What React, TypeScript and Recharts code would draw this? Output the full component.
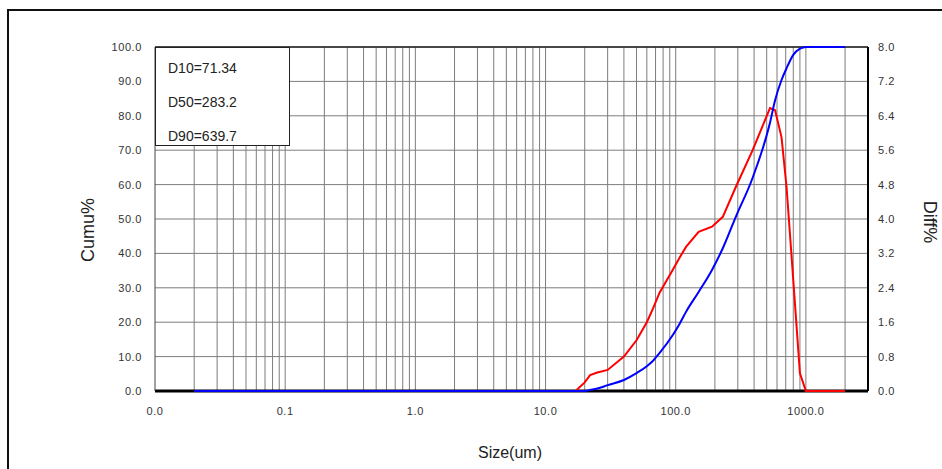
import { LineChart, Line, XAxis, YAxis, CartesianGrid, ReferenceLine } from "recharts";

const SIZES = [
  0.02, 17, 20, 22, 25, 30, 40, 50, 60, 67, 75, 95, 107, 120, 150, 190, 230,
  290, 390, 530, 580, 650, 710, 800, 900, 1000, 2000,
];
// cumulative %, left axis
const CUMU = [
  0, 0, 0, 0.3, 0.7, 1.7, 3.2, 5.2, 7.2, 8.8, 11, 16.3, 19.5, 23, 28.8, 35.2,
  41.5, 50.7, 62, 78, 84.5, 90.4, 93.8, 97.7, 99.5, 100, 100,
];
// differential %, right axis
const DIFF = [
  0, 0, 0.2, 0.37, 0.43, 0.49, 0.8, 1.18, 1.6, 1.92, 2.28, 2.82, 3.1, 3.35,
  3.7, 3.82, 4.05, 4.75, 5.6, 6.58, 6.53, 5.9, 4.75, 2.58, 0.41, 0, 0,
];

const X_TICKS = [0.01, 0.1, 1, 10, 100, 1000];
const CUMU_TICKS = [0, 10, 20, 30, 40, 50, 60, 70, 80, 90, 100];
const DIFF_TICKS = [0, 0.8, 1.6, 2.4, 3.2, 4.0, 4.8, 5.6, 6.4, 7.2, 8.0];
const MANTISSAS = [1, 2, 3, 4, 5, 6, 7, 8, 9];
const STATS = ["D10=71.34", "D50=283.2", "D90=639.7"];

const data = SIZES.map((size, i) => ({ size, cumu: CUMU[i], diff: DIFF[i] }));

// log grid: every 1..9 of each decade, up to 2000
const gridX = X_TICKS.flatMap((d) => MANTISSAS.map((m) => +(d * m).toPrecision(3))).filter(
  (v) => v > 0.01 && v <= 2000
);

const FONT = '"Liberation Sans", Arial, sans-serif';
const tick = { fill: "#333", fontSize: 11, fontFamily: FONT, letterSpacing: 0.6 };

export default function App() {
  return (
    <div
      style={{
        position: "absolute",
        left: 0,
        top: 0,
        width: 942,
        height: 469,
        background: "#fff",
        overflow: "hidden",
        fontFamily: FONT,
      }}
    >
      {/* outer frame */}
      <div
        style={{
          position: "absolute",
          left: 7,
          top: 9,
          width: 1000,
          height: 1000,
          borderTop: "2px solid #111",
          borderLeft: "2px solid #111",
        }}
      />
      <LineChart
        width={942}
        height={469}
        data={data}
        margin={{ top: 47, right: 34, bottom: 48, left: 95 }}
      >
        <CartesianGrid vertical={false} stroke="#7d7d7d" yAxisId="cumu" />
        <XAxis
          dataKey="size"
          type="number"
          scale="log"
          domain={[0.01, 3000]}
          ticks={X_TICKS}
          tickFormatter={(v: number) => v.toFixed(1)}
          allowDataOverflow
          axisLine={false}
          tickLine={false}
          tickSize={0}
          tickMargin={16}
          height={30}
          tick={tick}
        />
        <YAxis
          yAxisId="cumu"
          orientation="left"
          domain={[0, 100]}
          ticks={CUMU_TICKS}
          tickFormatter={(v: number) => v.toFixed(1)}
          width={60}
          axisLine={{ stroke: "#444" }}
          tickLine={false}
          tickSize={0}
          tickMargin={13}
          tick={tick}
        />
        <YAxis
          yAxisId="diff"
          orientation="right"
          domain={[0, 8]}
          ticks={DIFF_TICKS}
          tickFormatter={(v: number) => v.toFixed(1)}
          width={40}
          axisLine={{ stroke: "#000", strokeWidth: 2 }}
          tickLine={false}
          tickSize={0}
          tickMargin={10}
          tick={tick}
        />
        {gridX.map((v) => (
          <ReferenceLine key={v} x={v} yAxisId="cumu" stroke="#7d7d7d" strokeWidth={1} />
        ))}
        <ReferenceLine y={100} yAxisId="cumu" stroke="#222" strokeWidth={1.5} />
        <ReferenceLine y={0} yAxisId="cumu" stroke="#000" strokeWidth={3} />
        <Line
          yAxisId="diff"
          dataKey="diff"
          type="linear"
          stroke="#ff0000"
          strokeWidth={2}
          dot={false}
          isAnimationActive={false}
        />
        <Line
          yAxisId="cumu"
          dataKey="cumu"
          type="monotone"
          stroke="#0000ff"
          strokeWidth={2}
          dot={false}
          isAnimationActive={false}
        />
      </LineChart>

      {/* D-values box */}
      <div
        style={{
          position: "absolute",
          left: 155,
          top: 47,
          width: 135,
          height: 99,
          background: "#fff",
          border: "1.5px solid #222",
          color: "#222",
          fontSize: 14,
          lineHeight: "34px",
          paddingLeft: 12,
          paddingTop: 3,
          boxSizing: "border-box",
        }}
      >
        {STATS.map((s) => (
          <div key={s}>{s}</div>
        ))}
      </div>

      <div
        style={{
          position: "absolute",
          left: 88,
          top: 230,
          transform: "translate(-50%, -50%) rotate(-90deg)",
          fontSize: 18,
          color: "#222",
          whiteSpace: "nowrap",
        }}
      >
        Cumu%
      </div>
      <div
        style={{
          position: "absolute",
          left: 929,
          top: 222,
          transform: "translate(-50%, -50%) rotate(90deg)",
          fontSize: 18,
          color: "#222",
          whiteSpace: "nowrap",
        }}
      >
        Diff%
      </div>
      <div
        style={{
          position: "absolute",
          left: 510,
          top: 453,
          transform: "translate(-50%, -50%)",
          fontSize: 16,
          color: "#222",
          whiteSpace: "nowrap",
        }}
      >
        Size(um)
      </div>
    </div>
  );
}
